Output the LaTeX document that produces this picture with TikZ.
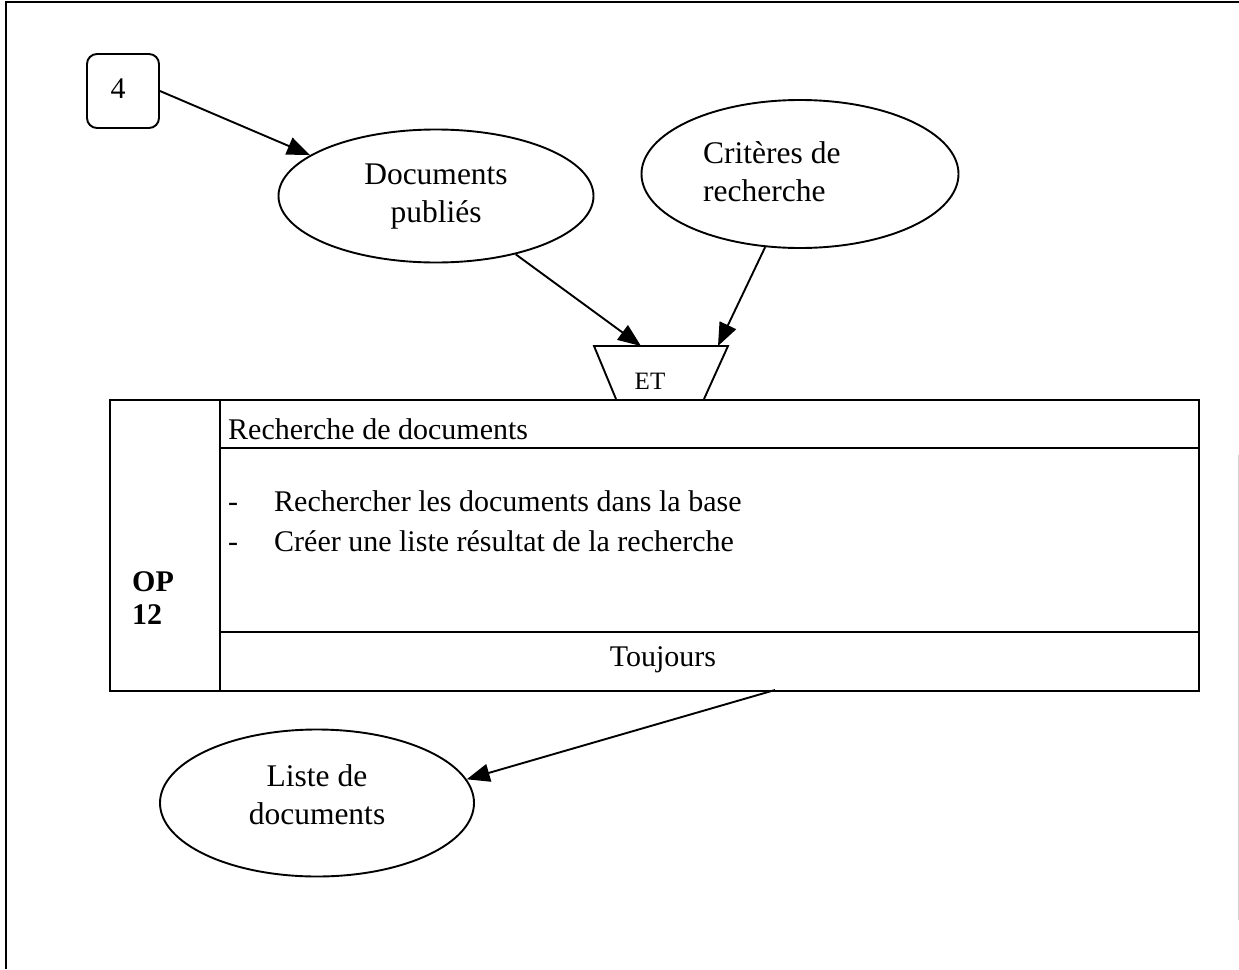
\documentclass[tikz,border=0pt]{standalone}
\usepackage{fontspec}
\setmainfont{Liberation Serif}
\usetikzlibrary{shapes.geometric,arrows.meta,calc}

\begin{document}
\begin{tikzpicture}[x=1pt,y=-1pt,
  txt/.style={font=\fontsize{30}{38}\selectfont,inner sep=0pt},
  bigtxt/.style={font=\fontsize{31.5}{38}\selectfont,inner sep=0pt,align=center},
  line/.style={line width=1.9pt},
  flow/.style={line width=1.9pt,-{Triangle[length=23pt,width=18pt]}},
  ovalbox/.style={draw,ellipse,line width=1.9pt,inner sep=0pt},
  cell/.style={draw,line width=1.9pt,anchor=north west,inner sep=0pt},
]
\useasboundingbox (0,0) rectangle (1239,969);

% page frame
\draw[line] (6,969) -- (6,2) -- (1239,2);
\draw[gray!35,line width=0.8pt] (1238,455) -- (1238,920);

% origin of the documents
\node[draw,line width=1.9pt,rounded corners=10pt,minimum width=72pt,
      minimum height=74pt,inner sep=0pt] (four) at (123,91) {};
\node[txt] (fourtxt) at (118,89) {4};

% events
\node[ovalbox,minimum width=315pt,minimum height=133pt] (pub) at (436,196) {};
\node[bigtxt] (pubtxt) at (436,197) {Documents\\publiés};
\node[ovalbox,minimum width=317pt,minimum height=148pt] (crit) at (800,174) {};
\node[bigtxt,anchor=west,align=left] (crittxt) at (703,172) {Critères de\\recherche};

% synchronisation
\coordinate (tl) at (594,346);
\coordinate (tr) at (728,346);
\coordinate (br) at (704,399);
\coordinate (bl) at (616,399);
\draw[line] (bl) -- (tl) -- (tr) -- (br);
\node[font=\fontsize{25}{30}\selectfont,inner sep=0pt] (et) at (650,381) {ET};
\coordinate (etL) at (641,346);
\coordinate (etR) at (718,346);

% operation OP 12
\node[cell,minimum width=110pt,minimum height=291pt] (opcol) at (109,399) {};
\node[cell,minimum width=979pt,minimum height=48pt] (title) at (219,399) {};
\node[cell,minimum width=979pt,minimum height=184pt] (body) at (219,447) {};
\node[cell,minimum width=979pt,minimum height=59pt] (cond) at (219,631) {};

\node[txt,anchor=base west] (titletxt) at (228,439) {Recherche de documents};
\node[txt,anchor=base west] (dasha) at (228,511) {-};
\node[txt,anchor=base west] (itema) at (274,511) {Rechercher les documents dans la base};
\node[txt,anchor=base west] (dashb) at (228,551) {-};
\node[txt,anchor=base west] (itemb) at (274,551) {Créer une liste résultat de la recherche};
\node[txt,anchor=base west,font=\fontsize{30}{38}\selectfont\bfseries] (opa) at (132,591) {OP};
\node[txt,anchor=base west,font=\fontsize{30}{38}\selectfont\bfseries] (opb) at (132,624) {12};
\node[txt,anchor=base] (condtxt) at (663,666) {Toujours};

% result
\node[ovalbox,minimum width=314pt,minimum height=147pt] (liste) at (317,803) {};
\node[bigtxt] (listetxt) at (317,795) {Liste de\\documents};
\coordinate (opout) at (775,690);

% flows
\draw[flow] (four.east) -- (pub.162);
\draw[flow] (pub) -- (etL);
\draw[flow] (crit) -- (etR);
\draw[flow] (opout) -- (liste.9);
\end{tikzpicture}
\end{document}
